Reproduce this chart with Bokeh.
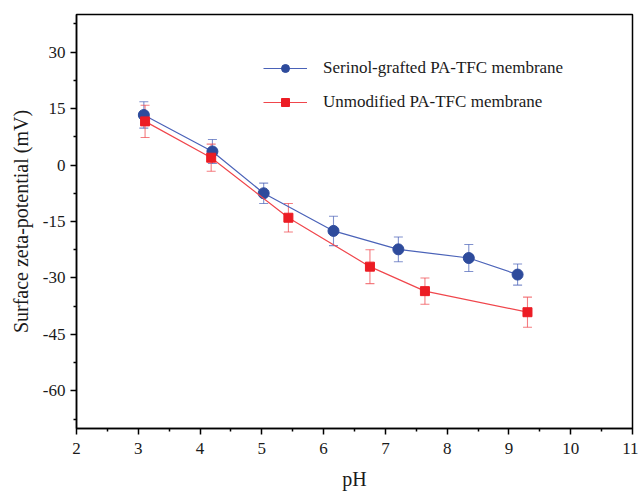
from bokeh.plotting import figure
from bokeh.models import (ColumnDataSource, Whisker, TeeHead, FixedTicker,
                          Legend, LegendItem, Range1d)
from bokeh.embed import file_html
from bokeh.resources import INLINE

# Data
ph_serinol = [3.09, 4.20, 5.03, 6.16, 7.21, 8.35, 9.14]
zeta_serinol = [13.3, 3.6, -7.5, -17.5, -22.4, -24.7, -29.1]
err_serinol = [3.5, 3.2, 2.7, 3.9, 3.3, 3.6, 2.8]

ph_unmod = [3.11, 4.18, 5.43, 6.75, 7.64, 9.30]
zeta_unmod = [11.6, 1.95, -14.0, -27.0, -33.5, -39.1]
err_unmod = [4.3, 3.6, 3.8, 4.5, 3.5, 4.0]

x_ticks = [2, 3, 4, 5, 6, 7, 8, 9, 10, 11]
x_minor = [2.5, 3.5, 4.5, 5.5, 6.5, 7.5, 8.5, 9.5, 10.5]
y_ticks = [-60, -45, -30, -15, 0, 15, 30]
y_minor = [-67.5, -52.5, -37.5, -22.5, -7.5, 7.5, 22.5, 37.5]

label_serinol = "Serinol-grafted PA-TFC membrane"
label_unmod = "Unmodified PA-TFC membrane"

FONT = "Liberation Serif"
BLUE_M = "#2E4B9C"
BLUE_L = "#4A62B8"
RED_M = "#EC1C24"
RED_L = "#F0464C"

p = figure(width=638, height=492, output_backend="svg", toolbar_location=None,
           x_range=Range1d(2, 11), y_range=Range1d(-70, 40),
           min_border_left=76, min_border_right=6, min_border_top=14,
           min_border_bottom=64)
p.xgrid.visible = False
p.ygrid.visible = False
p.outline_line_color = "black"
p.outline_line_width = 1.5
p.background_fill_color = "white"
p.border_fill_color = "white"

s_src = ColumnDataSource(dict(x=ph_serinol, y=zeta_serinol,
                              upper=[v + e for v, e in zip(zeta_serinol, err_serinol)],
                              lower=[v - e for v, e in zip(zeta_serinol, err_serinol)]))
u_src = ColumnDataSource(dict(x=ph_unmod, y=zeta_unmod,
                              upper=[v + e for v, e in zip(zeta_unmod, err_unmod)],
                              lower=[v - e for v, e in zip(zeta_unmod, err_unmod)]))

for src, col in ((s_src, BLUE_L), (u_src, RED_L)):
    w = Whisker(source=src, base="x", upper="upper", lower="lower",
                line_color=col, line_alpha=0.7, line_width=1.1,
                upper_head=TeeHead(size=9, line_color=col, line_alpha=0.7, line_width=1.1),
                lower_head=TeeHead(size=9, line_color=col, line_alpha=0.7, line_width=1.1))
    p.add_layout(w)

l1 = p.line("x", "y", source=s_src, line_color=BLUE_L, line_width=1.2)
m1 = p.scatter("x", "y", source=s_src, marker="circle", size=11,
               fill_color=BLUE_M, line_color=BLUE_M)
l2 = p.line("x", "y", source=u_src, line_color=RED_L, line_width=1.2)
m2 = p.scatter("x", "y", source=u_src, marker="square", size=9,
               fill_color=RED_M, line_color=RED_M)

for ax in (p.xaxis[0], p.yaxis[0]):
    ax.axis_line_width = 1.5
    ax.major_tick_line_width = 1.5
    ax.minor_tick_line_width = 1.5
    ax.major_tick_out = 6
    ax.major_tick_in = 0
    ax.minor_tick_out = 3
    ax.minor_tick_in = 0
    ax.major_label_text_font = FONT
    ax.major_label_text_font_size = "17px"
    ax.major_label_text_color = "#1a1a1a"
    ax.axis_label_text_font = FONT
    ax.axis_label_text_font_size = "20px"
    ax.axis_label_text_font_style = "normal"
    ax.axis_label_text_color = "#1a1a1a"

p.xaxis.ticker = FixedTicker(ticks=x_ticks, minor_ticks=x_minor)
p.yaxis.ticker = FixedTicker(ticks=y_ticks, minor_ticks=y_minor)
p.yaxis.major_label_overrides = {t: str(t) for t in y_ticks}
p.xaxis.major_label_overrides = {t: str(t) for t in x_ticks}
p.xaxis.axis_label = "pH"
p.yaxis.axis_label = "Surface zeta-potential (mV)"
p.xaxis.major_label_standoff = 8
p.xaxis.axis_label_standoff = 11
p.yaxis.major_label_standoff = 5
p.yaxis.axis_label_standoff = 8

legend = Legend(items=[LegendItem(label=label_serinol, renderers=[l1, m1]),
                       LegendItem(label=label_unmod, renderers=[l2, m2])],
                location=(187, 316), orientation="vertical",
                border_line_color=None, background_fill_alpha=0,
                padding=0, margin=0, spacing=14,
                glyph_width=44, glyph_height=20, label_height=20,
                label_standoff=16,
                label_text_font=FONT, label_text_font_size="17px",
                label_text_color="#1a1a1a")
p.add_layout(legend, "center")

open("out.html", "w").write(file_html(p, INLINE))
